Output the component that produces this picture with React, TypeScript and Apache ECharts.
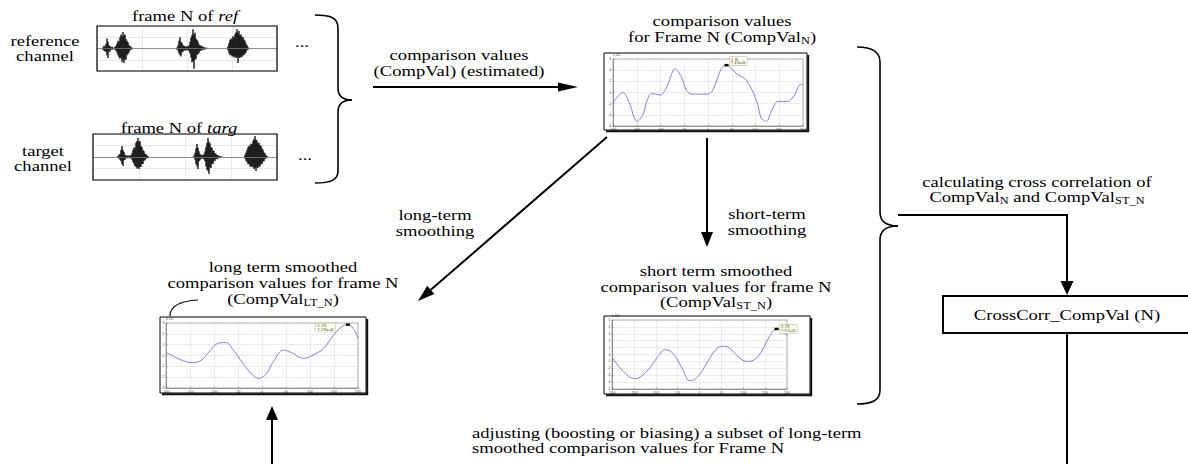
import React, { useEffect, useRef } from "react";
import * as echarts from "echarts";

const FONT = '"Liberation Serif", "Times New Roman", serif';
const SMALL_FONT = '"Liberation Sans", Arial, sans-serif';

// ---- waveform envelopes: [sample, upper, lower] ----
const refWave: number[][] = [
  [6, 0.05, -0.05], [7, 0.12, -0.1], [8, 0.08, -0.12], [9, 0.2, -0.15], [10, 0.45, -0.3], [11, 0.3, -0.42],
  [12, 0.15, -0.12], [13, 0.1, -0.14], [14, 0.06, -0.05], [15, 0.08, -0.06], [16, 0.04, -0.03],
  [18, 0.08, -0.06], [19, 0.12, -0.1], [20, 0.22, -0.18], [21, 0.35, -0.3], [22, 0.3, -0.38], [23, 0.5, -0.45],
  [24, 0.62, -0.4], [25, 0.55, -0.6], [26, 0.73, -0.5], [27, 0.58, -0.64], [28, 0.62, -0.48], [29, 0.42, -0.5],
  [30, 0.35, -0.3], [31, 0.28, -0.24], [32, 0.15, -0.18], [33, 0.12, -0.08], [34, 0.06, -0.06], [35, 0.05, -0.03],
  [80, 0.05, -0.04], [81, 0.15, -0.1], [82, 0.35, -0.22], [83, 0.5, -0.3], [84, 0.3, -0.36], [85, 0.25, -0.18],
  [86, 0.15, -0.14], [87, 0.12, -0.08], [88, 0.1, -0.1], [89, 0.08, -0.06], [90, 0.1, -0.08], [91, 0.08, -0.07],
  [92, 0.14, -0.12], [93, 0.3, -0.22], [94, 0.48, -0.4], [95, 0.6, -0.62], [96, 0.86, -0.55], [97, 0.62, -0.9],
  [98, 0.7, -0.5], [99, 0.45, -0.45], [100, 0.38, -0.28], [101, 0.3, -0.25], [102, 0.18, -0.2], [103, 0.16, -0.1],
  [104, 0.1, -0.1], [105, 0.12, -0.06], [106, 0.06, -0.06], [107, 0.07, -0.04], [108, 0.04, -0.04], [110, 0.03, -0.02],
  [131, 0.1, -0.08], [132, 0.25, -0.2], [133, 0.38, -0.3], [134, 0.45, -0.28], [135, 0.42, -0.36], [136, 0.55, -0.33],
  [137, 0.5, -0.4], [138, 0.65, -0.36], [139, 0.72, -0.42], [140, 0.86, -0.38], [141, 0.7, -0.64], [142, 0.78, -0.4],
  [143, 0.6, -0.42], [144, 0.62, -0.35], [145, 0.5, -0.38], [146, 0.52, -0.3], [147, 0.4, -0.3], [148, 0.35, -0.22],
  [149, 0.22, -0.18], [150, 0.14, -0.08], [151, 0.06, -0.05],
];

const targWave: number[][] = [
  [25, 0.04, -0.03], [26, 0.1, -0.06], [27, 0.14, -0.12], [28, 0.3, -0.18], [29, 0.48, -0.3], [30, 0.32, -0.39],
  [31, 0.22, -0.14], [32, 0.1, -0.12], [33, 0.08, -0.05], [34, 0.06, -0.05], [35, 0.04, -0.04], [36, 0.06, -0.05],
  [37, 0.05, -0.04], [38, 0.09, -0.07],
  [39, 0.16, -0.12], [40, 0.3, -0.22], [41, 0.42, -0.3], [42, 0.38, -0.4], [43, 0.62, -0.42], [44, 0.7, -0.5],
  [45, 0.83, -0.46], [46, 0.65, -0.52], [47, 0.7, -0.42], [48, 0.48, -0.44], [49, 0.42, -0.3], [50, 0.3, -0.3],
  [51, 0.25, -0.16], [52, 0.14, -0.14], [53, 0.12, -0.06], [54, 0.06, -0.06], [55, 0.04, -0.03],
  [101, 0.05, -0.04], [102, 0.18, -0.12], [103, 0.38, -0.3], [104, 0.57, -0.4], [105, 0.4, -0.52], [106, 0.25, -0.18],
  [107, 0.14, -0.14], [108, 0.1, -0.06], [109, 0.07, -0.08], [110, 0.1, -0.07], [111, 0.12, -0.1],
  [112, 0.25, -0.18], [113, 0.45, -0.4], [114, 0.62, -0.55], [115, 0.83, -0.6], [116, 0.66, -0.74], [117, 0.6, -0.45],
  [118, 0.42, -0.48], [119, 0.4, -0.3], [120, 0.28, -0.3], [121, 0.26, -0.18], [122, 0.16, -0.16], [123, 0.14, -0.08],
  [124, 0.08, -0.1], [125, 0.08, -0.05], [126, 0.05, -0.05], [128, 0.04, -0.03],
  [152, 0.1, -0.06], [153, 0.2, -0.16], [154, 0.32, -0.22], [155, 0.42, -0.32], [156, 0.48, -0.3], [157, 0.5, -0.42],
  [158, 0.58, -0.38], [159, 0.55, -0.45], [160, 0.7, -0.42], [161, 0.78, -0.52], [162, 0.91, -0.48], [163, 0.75, -0.61],
  [164, 0.72, -0.45], [165, 0.6, -0.48], [166, 0.62, -0.38], [167, 0.5, -0.42], [168, 0.5, -0.3], [169, 0.38, -0.32],
  [170, 0.32, -0.2], [171, 0.2, -0.18], [172, 0.16, -0.08], [173, 0.08, -0.06], [174, 0.04, -0.03],
];

// ---- comparison values for frame N (x 10^4) ----
const compValX = [-200, -179, -168, -149, -137, -130, -119, -100, -88, -69, -56, -46, -35, -18, 0, 11, 28, 39, 49, 60, 77, 91, 105, 112, 123, 133, 147, 168, 182, 192, 200];
const compValY = [-1.8, 0, -1.3, -5.2, -4.0, -1.9, -0.15, -0.45, 0.75, 4.3, 2.8, 0.45, -0.3, -0.3, -0.3, 0.55, 4.3, 4.9, 4.3, 3.4, 2.5, 0.75, -2.2, -4.6, -5.2, -3.4, -1.6, -1.6, -0.45, 1.3, 1.5];

// ---- long-term smoothed ----
const ltX = [-200, -169, -148, -131, -107, -93, -76, -62, -45, -24, -7, 7, 24, 45, 62, 86, 107, 128, 155, 172, 179, 190, 200];
const ltY = [0.3, -0.4, -0.65, -0.56, 0.5, 1.1, 1.2, 0.65, -0.4, -1.6, -2.1, -1.8, -0.55, 0.5, 0.26, -0.26, 0.05, 0.65, 2.2, 2.8, 2.85, 2.5, 1.6];

// ---- short-term smoothed ----
const stX = [-200, -172, -147, -120, -95, -78, -60, -40, -22, -5, 20, 40, 57, 78, 95, 113, 135, 160, 176, 190, 200];
const stY = [-0.4, -2.6, -3.5, -2.4, -0.3, 0.7, 0.1, -2.0, -3.8, -3.3, -0.9, 0.9, 1.2, 0.4, -0.7, -1.0, -0.2, 2.6, 3.7, 3.5, 2.7];

const FS = 15;
const SX = 1.24;
const RICH = {
  it: { fontFamily: FONT, fontSize: FS, fontStyle: "italic", lineHeight: 16, fill: "#000" },
  s: { fontFamily: FONT, fontSize: 10, lineHeight: 10, padding: [7, 0, 0, 0], fill: "#000" },
};

function T(x: number, y: number, text: string, align: string = "center") {
  return {
    type: "text", x, y, scaleX: SX, z: 20,
    style: { text, x: 0, y: 0, align, verticalAlign: "middle", fontFamily: FONT, fontSize: FS, lineHeight: 16, fill: "#000", rich: RICH },
  };
}
function L(x1: number, y1: number, x2: number, y2: number, w = 2) {
  return { type: "line", z: 20, shape: { x1, y1, x2, y2 }, style: { stroke: "#000", lineWidth: w } };
}
function B(x1: number, y1: number, cx1: number, cy1: number, cx2: number, cy2: number, x2: number, y2: number, w = 1.6) {
  return { type: "bezierCurve", z: 20, shape: { x1, y1, x2, y2, cpx1: cx1, cpy1: cy1, cpx2: cx2, cpy2: cy2 }, style: { stroke: "#000", lineWidth: w, fill: "none" } };
}
function arrow(x1: number, y1: number, x2: number, y2: number, len = 16, hw = 5.5) {
  const dx = x2 - x1, dy = y2 - y1;
  const d = Math.hypot(dx, dy);
  const ux = dx / d, uy = dy / d;
  const bx = x2 - ux * len, by = y2 - uy * len;
  return [
    L(x1, y1, bx, by, 2),
    { type: "polygon", z: 20, shape: { points: [[x2, y2], [bx - uy * hw, by + ux * hw], [bx + uy * hw, by - ux * hw]] }, style: { fill: "#000" } },
  ];
}
function frame(x: number, y: number, w: number, h: number, lw = 1, shadow = false) {
  const out: any[] = [{ type: "rect", z: 20, shape: { x, y, width: w, height: h }, style: { fill: "none", stroke: "#000", lineWidth: lw } }];
  if (shadow) out.push({ type: "polyline", z: 20, shape: { points: [[x + 2, y + h + 1.2], [x + w + 1.2, y + h + 1.2], [x + w + 1.2, y + 2]] }, style: { stroke: "#111", lineWidth: 2, fill: "none" } });
  return out;
}

function waveGrid(left: number, top: number, width: number, height: number) {
  return { left, top, width, height, show: false, outerBoundsMode: "none" };
}
function hiddenAxis(gridIndex: number, min: number, max: number, interval: number) {
  return {
    type: "value", gridIndex, min, max, interval,
    axisLine: { show: false }, axisTick: { show: false }, axisLabel: { show: false },
    splitLine: { show: true, lineStyle: { color: "#e8e8e8", width: 1 } },
  };
}
function plotAxis(gridIndex: number, min: number, max: number, interval: number, extra: any = {}) {
  return {
    type: "value", gridIndex, min, max, interval,
    axisLine: { show: true, onZero: false, lineStyle: { color: "#666", width: 0.6 } },
    axisTick: { show: true, inside: true, length: 1.5, lineStyle: { color: "#666", width: 0.5 } },
    axisLabel: { show: true, fontSize: 3.5, margin: 1.5, color: "#444", fontFamily: SMALL_FONT },
    splitLine: { show: true, lineStyle: { color: "#c8c8c8", type: "dotted", width: 0.7 } },
    ...extra,
  };
}
function waveSeries(idx: number, data: number[][]) {
  return {
    type: "custom", xAxisIndex: idx, yAxisIndex: idx, data,
    renderItem: (_p: any, api: any) => {
      const x = api.value(0);
      const a = api.coord([x, api.value(1)]);
      const b = api.coord([x, api.value(2)]);
      return { type: "line", shape: { x1: a[0], y1: a[1], x2: b[0], y2: b[1] }, style: { stroke: "#000", lineWidth: 1.3 } };
    },
    markLine: { silent: true, symbol: "none", label: { show: false }, lineStyle: { color: "#777", width: 0.8, type: "solid" }, data: [{ yAxis: 0 }] },
  };
}
function peakIndex(ys: number[]) {
  let k = 0;
  ys.forEach((v, i) => { if (v > ys[k]) k = i; });
  return k;
}
function lineSeries(idx: number, xs: number[], ys: number[], smooth: number, tipPos: number[], yUnit: string) {
  const k = peakIndex(ys);
  return {
    type: "line", xAxisIndex: idx, yAxisIndex: idx, smooth, showSymbol: false,
    data: xs.map((x, i) => [x, ys[i]]),
    lineStyle: { color: "#7f7fe6", width: 1 },
    markPoint: {
      symbol: "rect", symbolSize: [4, 2.5], itemStyle: { color: "#000" },
      label: {
        show: true, position: tipPos, formatter: `X: ${xs[k]}\nY: ${ys[k]}${yUnit}`,
        fontSize: 3, lineHeight: 3.6, color: "#333", fontFamily: SMALL_FONT,
        backgroundColor: "#ffffe6", borderColor: "#999", borderWidth: 0.4, padding: [0.6, 1.5],
      },
      data: [{ coord: [xs[k], ys[k]] }],
    },
  };
}

function buildOption() {
  const graphics: any[] = [
    // left block
    T(185, 16, "frame N of {it|ref}"),
    T(45, 41, "reference"), T(45, 56, "channel"),
    ...frame(97, 26, 180, 45, 1.2),
    T(302, 42, "..."),
    T(179, 128, "frame N of {it|targ}"),
    T(43, 151, "target"), T(43, 166, "channel"),
    ...frame(93, 134, 184, 46, 1.2),
    T(305, 155, "..."),
    // left brace
    B(315, 15, 331, 15, 338, 18, 338, 28), L(338, 28, 338, 88, 1.6),
    B(338, 88, 338, 96, 343, 100, 352, 100), B(352, 100, 343, 100, 338, 104, 338, 112),
    L(338, 112, 338, 171, 1.6), B(338, 171, 338, 180, 331, 183, 315, 183),
    // top arrow
    T(459, 55, "comparison values"), T(459, 71, "(CompVal) (estimated)"),
    ...arrow(373, 87, 578, 87, 20, 4.5),
    // top plot
    T(722, 21, "comparison values"), T(722, 37, "for Frame N (CompVal{s|N})"),
    ...frame(604, 53, 203, 77, 1, true),
    // arrows from top plot
    ...arrow(607, 137, 418, 301, 17, 5.5),
    T(435, 215, "long-term"), T(435, 231, "smoothing"),
    ...arrow(707, 138, 707, 247, 15, 6),
    T(767, 214, "short-term"), T(767, 230, "smoothing"),
    // long term plot
    T(283, 267, "long term smoothed"), T(283, 283, "comparison values for frame N"), T(283, 299, "(CompVal{s|LT_N})"),
    B(170, 316, 170, 306, 180, 301, 198, 300, 1.2),
    ...frame(160, 317, 206, 76, 1, true),
    ...arrow(272, 464, 272, 406, 14, 6),
    // short term plot
    T(716, 271, "short term smoothed"), T(716, 287, "comparison values for frame N"), T(716, 302, "(CompVal{s|ST_N})"),
    ...frame(604, 316, 206, 78, 1, true),
    // right brace
    B(857, 47, 873, 47, 880, 52, 880, 62), L(880, 62, 880, 212, 1.6),
    B(880, 212, 880, 222, 886, 226, 898, 226), B(898, 226, 886, 226, 880, 230, 880, 240),
    L(880, 240, 880, 390, 1.6), B(880, 390, 880, 400, 873, 404, 857, 404),
    // cross correlation
    T(1037, 182, "calculating cross correlation of"), T(1037, 197, "CompVal{s|N} and CompVal{s|ST_N}"),
    L(898, 215, 1067, 215, 2),
    ...arrow(1067, 214, 1067, 295, 14, 6.5),
    { type: "rect", z: 20, shape: { x: 943, y: 296, width: 250, height: 37 }, style: { fill: "none", stroke: "#000", lineWidth: 2 } },
    T(1067, 315, "CrossCorr_CompVal (N)"),
    L(1067, 333, 1067, 464, 2),
    // bottom text
    T(472, 433, "adjusting (boosting or biasing) a subset of long-term", "left"),
    T(472, 448, "smoothed comparison values for Frame N", "left"),
  ];

  const plotGrid = (left: number, top: number, width: number, height: number) => ({
    left, top, width, height, show: true, backgroundColor: "#fff", borderColor: "#777", borderWidth: 0.6, outerBoundsMode: "none",
  });
  const yName = { name: "x 10⁴", nameLocation: "end", nameGap: 0.5, nameTextStyle: { fontSize: 3.5, color: "#444", fontFamily: SMALL_FONT, align: "left" } };

  return {
    animation: false,
    backgroundColor: "#fff",
    grid: [
      waveGrid(97, 26, 180, 45),
      waveGrid(93, 134, 184, 46),
      plotGrid(613, 59, 190, 67),
      plotGrid(166, 323, 192, 65),
      plotGrid(612, 320, 175, 69),
    ],
    xAxis: [
      hiddenAxis(0, 0, 180, 45),
      hiddenAxis(1, 0, 184, 46),
      plotAxis(2, -200, 200, 50),
      plotAxis(3, -200, 200, 50),
      plotAxis(4, -200, 200, 50),
    ],
    yAxis: [
      hiddenAxis(0, -1, 1, 0.5),
      hiddenAxis(1, -1, 1, 0.5),
      plotAxis(2, -6, 6, 2, yName),
      plotAxis(3, -3, 3, 1, yName),
      plotAxis(4, -5, 5, 1, yName),
    ],
    series: [
      waveSeries(0, refWave),
      waveSeries(1, targWave),
      lineSeries(2, compValX, compValY, 0.3, [5, -7], "e+04"),
      lineSeries(3, ltX, ltY, 0.4, [-30, 0], "e+04"),
      lineSeries(4, stX, stY, 0.4, [5, -3], "e+04"),
    ],
    graphic: { elements: graphics },
  };
}

export default function App() {
  const ref = useRef<HTMLDivElement>(null);
  useEffect(() => {
    const chart = echarts.init(ref.current!, null, { renderer: "svg" });
    chart.setOption(buildOption() as any);
    return () => chart.dispose();
  }, []);
  return (
    <div
      ref={ref}
      style={{ position: "absolute", left: 0, top: 0, width: 1188, height: 464, background: "#fff" }}
    />
  );
}
